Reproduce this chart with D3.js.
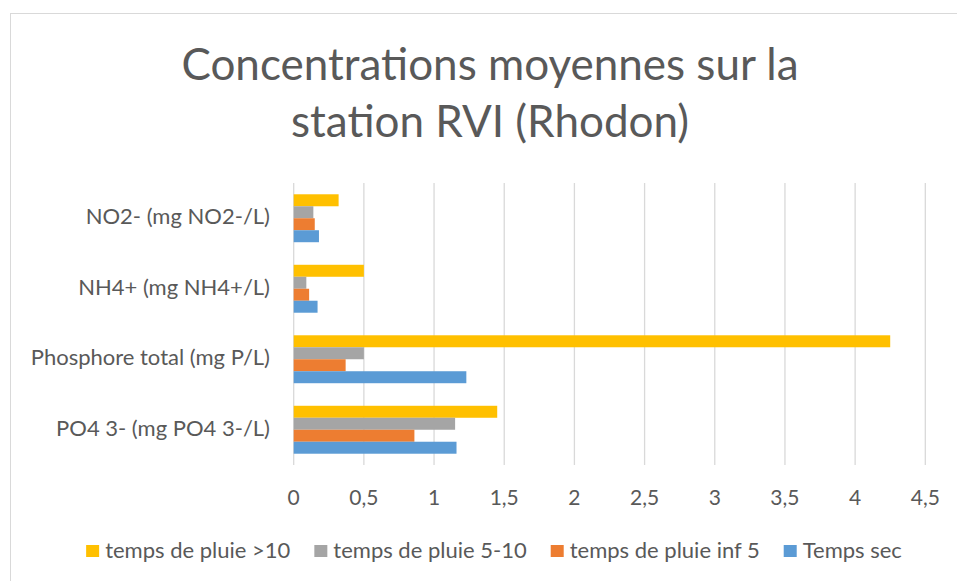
<!DOCTYPE html>
<html>
<head>
<meta charset="utf-8">
<script src="https://cdn.jsdelivr.net/npm/d3@7"></script>
<style>
  body { margin: 0; background: #fff; }
  text { font-family: Lato, "Open Sans", sans-serif; fill: #595959; }
</style>
</head>
<body>
<div id="chart"></div>
<script>
// data
var categories = ["NO2- (mg NO2-/L)", "NH4+ (mg NH4+/L)", "Phosphore total (mg P/L)", "PO4 3- (mg PO4 3-/L)"];
var seriesNames = ["temps de pluie >10", "temps de pluie 5-10", "temps de pluie inf 5", "Temps sec"];
var pluieSup10 = [0.32, 0.50, 4.25, 1.45];
var pluie5a10 = [0.14, 0.09, 0.50, 1.15];
var pluieInf5 = [0.15, 0.11, 0.37, 0.86];
var tempsSec = [0.18, 0.17, 1.23, 1.16];
var xTicks = [0, 0.5, 1, 1.5, 2, 2.5, 3, 3.5, 4, 4.5];
var titleLines = ["Concentrations moyennes sur la", "station RVI (Rhodon)"];

var colors = ["#FFC000", "#A5A5A5", "#ED7D31", "#5B9BD5"];
var allSeries = [pluieSup10, pluie5a10, pluieInf5, tempsSec];

var w = 957, h = 581;
var svg = d3.select("#chart").append("svg")
  .attr("width", w)
  .attr("height", h);

// chart border (runs off the right / bottom edge like the screenshot)
svg.append("rect")
  .attr("x", 10.5).attr("y", 13.5)
  .attr("width", 960).attr("height", 580)
  .attr("fill", "white")
  .attr("stroke", "#D9D9D9");

// title
svg.selectAll(".title")
  .data(titleLines)
  .enter()
  .append("text")
  .attr("class", "title")
  .attr("x", 490)
  .attr("y", function(d, i) { return 80 + i * 57; })
  .attr("text-anchor", "middle")
  .style("font-size", "44px")
  .text(function(d) { return d; });

var plotLeft = 293.7, plotRight = 925.3, plotTop = 183, plotBottom = 465;

var x = d3.scaleLinear().domain([0, 4.5]).range([plotLeft, plotRight]);
var y = d3.scaleBand().domain(categories).range([plotTop, plotBottom])
  .paddingInner(0.32).paddingOuter(0.16);
var ySub = d3.scaleBand().domain(seriesNames).range([0, y.bandwidth()]);

// gridlines
svg.append("g")
  .selectAll("line")
  .data(xTicks)
  .enter()
  .append("line")
  .attr("x1", function(d) { return x(d); })
  .attr("x2", function(d) { return x(d); })
  .attr("y1", plotTop)
  .attr("y2", plotBottom)
  .attr("stroke", "#D9D9D9")
  .attr("stroke-width", 1.3);

// tick labels
svg.append("g")
  .selectAll("text")
  .data(xTicks)
  .enter()
  .append("text")
  .attr("x", function(d) { return x(d); })
  .attr("y", 505)
  .attr("text-anchor", "middle")
  .style("font-size", "21px")
  .text(function(d) { return String(d).replace(".", ","); });

// category labels
svg.append("g")
  .selectAll("text")
  .data(categories)
  .enter()
  .append("text")
  .attr("x", 270)
  .attr("y", function(d) { return y(d) + y.bandwidth() / 2 + 6; })
  .attr("text-anchor", "end")
  .style("font-size", "22px")
  .text(function(d) { return d; });

// bars
var barData = [];
allSeries.forEach(function(vals, s) {
  vals.forEach(function(v, c) {
    barData.push({ cat: categories[c], series: seriesNames[s], value: v, color: colors[s] });
  });
});

svg.append("g")
  .selectAll("rect")
  .data(barData)
  .enter()
  .append("rect")
  .attr("x", x(0))
  .attr("y", function(d) { return y(d.cat) + ySub(d.series); })
  .attr("width", function(d) { return x(d.value) - x(0); })
  .attr("height", ySub.bandwidth())
  .attr("fill", function(d) { return d.color; });

// legend
var legend = svg.append("g");
var items = legend.selectAll("g")
  .data(seriesNames)
  .enter()
  .append("g");

items.append("rect")
  .attr("width", 13).attr("height", 12)
  .attr("y", 545)
  .attr("fill", function(d, i) { return colors[i]; });

items.append("text")
  .attr("x", 19)
  .attr("y", 557.5)
  .style("font-size", "22px")
  .text(function(d) { return d; });

var widths = [];
items.each(function() {
  widths.push(19 + d3.select(this).select("text").node().getComputedTextLength());
});
var gap = 24;
var total = d3.sum(widths) + gap * (widths.length - 1);
var pos = 494 - total / 2;
items.attr("transform", function(d, i) {
  var p = pos;
  pos += widths[i] + gap;
  return "translate(" + p + ",0)";
});
</script>
</body>
</html>
